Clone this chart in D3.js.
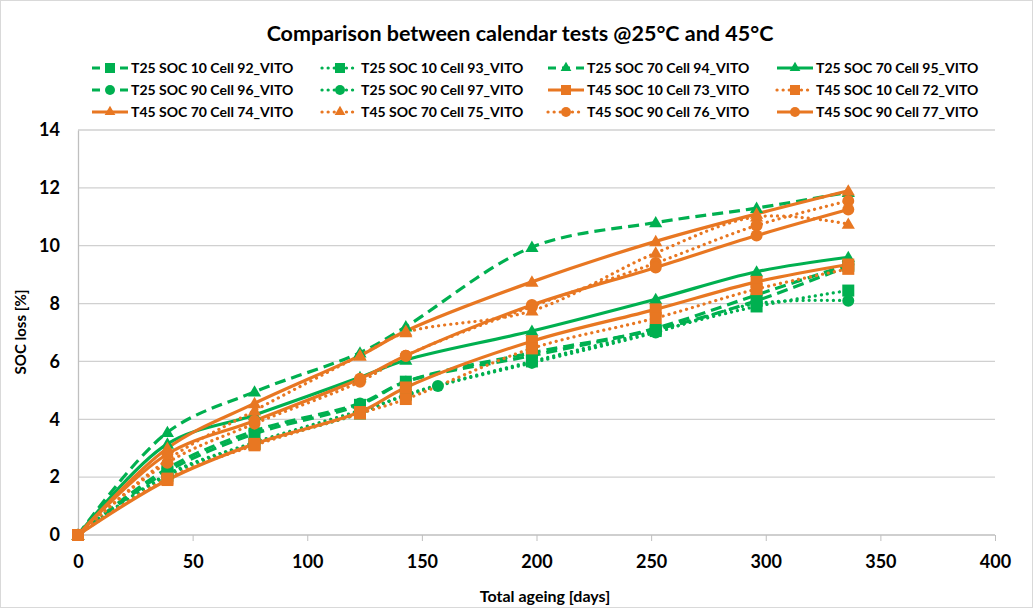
<!DOCTYPE html>
<html>
<head>
<meta charset="utf-8">
<script src="https://cdn.jsdelivr.net/npm/d3@7"></script>
<style>
  body { margin: 0; background: #fff; }
  svg text { font-family: Lato, "Open Sans", sans-serif; font-weight: bold; fill: #000; }
  .axis path, .axis line { stroke: #bfbfbf; }
</style>
</head>
<body>
<svg id="graph" width="1034" height="609"></svg>
<script>
// series names, in legend order
var seriesNames = [
  "T25 SOC 10 Cell 92_VITO", "T25 SOC 10 Cell 93_VITO", "T25 SOC 70 Cell 94_VITO", "T25 SOC 70 Cell 95_VITO",
  "T25 SOC 90 Cell 96_VITO", "T25 SOC 90 Cell 97_VITO", "T45 SOC 10 Cell 73_VITO", "T45 SOC 10 Cell 72_VITO",
  "T45 SOC 70 Cell 74_VITO", "T45 SOC 70 Cell 75_VITO", "T45 SOC 90 Cell 76_VITO", "T45 SOC 90 Cell 77_VITO"
];

// days of each measurement
var days = [0, 39, 77, 123, 143, 198, 252, 296, 336];
var days97 = [0, 39, 77, 123, 157, 198, 252, 296, 336];

// SOC loss [%]
var cell92 = [0, 2.2, 3.5, 4.5, 5.3, 6.3, 7.1, 8.1, 9.3];
var cell93 = [0, 2.05, 3.15, 4.2, 4.85, 6.0, 7.05, 7.9, 8.45];
var cell94 = [0, 3.55, 4.95, 6.3, 7.2, 9.95, 10.8, 11.3, 11.85];
var cell95 = [0, 3.15, 4.15, 5.45, 6.05, 7.05, 8.15, 9.1, 9.6];
var cell96 = [0, 2.3, 3.6, 4.55, 5.3, 6.2, 7.15, 8.3, 9.35];
var cell97 = [0, 2.1, 3.2, 4.3, 5.15, 5.95, 7.0, 8.0, 8.1];
var cell73 = [0, 1.9, 3.15, 4.25, 5.1, 6.7, 7.8, 8.75, 9.35];
var cell72 = [0, 1.95, 3.1, 4.2, 4.7, 6.45, 7.5, 8.5, 9.2];
var cell74 = [0, 3.0, 4.55, 6.2, 7.05, 8.75, 10.15, 11.1, 11.9];
var cell75 = [0, 2.6, 4.3, 6.2, 7.0, 7.75, 9.75, 11.0, 10.75];
var cell76 = [0, 2.5, 3.85, 5.3, 6.2, 7.9, 9.4, 10.7, 11.55];
var cell77 = [0, 2.8, 3.95, 5.4, 6.2, 7.95, 9.25, 10.35, 11.25];

var xTicks = [0, 50, 100, 150, 200, 250, 300, 350, 400];
var yTicks = [0, 2, 4, 6, 8, 10, 12, 14];

var green = "#00b050", orange = "#e87722";

// style of each series: colour, line, marker
var styles = [
  {c: green, dash: "dash", m: "square"},
  {c: green, dash: "dot", m: "square"},
  {c: green, dash: "dash", m: "triangle"},
  {c: green, dash: "solid", m: "triangle"},
  {c: green, dash: "dash", m: "circle"},
  {c: green, dash: "dot", m: "circle"},
  {c: orange, dash: "solid", m: "square"},
  {c: orange, dash: "dot", m: "square"},
  {c: orange, dash: "solid", m: "triangle"},
  {c: orange, dash: "dot", m: "triangle"},
  {c: orange, dash: "dot", m: "circle"},
  {c: orange, dash: "solid", m: "circle"}
];

var values = [cell92, cell93, cell94, cell95, cell96, cell97, cell73, cell72, cell74, cell75, cell76, cell77];
var data = values.map(function(v, i) {
  var xs = (i == 5) ? days97 : days;
  return v.map(function(d, j) { return {day: xs[j], loss: d}; });
});

var svg = d3.select("#graph");

// outer frame
svg.append("rect")
  .attr("x", 0.5).attr("y", 0.5).attr("width", 1032).attr("height", 607)
  .attr("fill", "none").attr("stroke", "#d9d9d9");

var margin = {top: 130, left: 78, right: 39, bottom: 74};
var width = 1034 - margin.left - margin.right;
var height = 609 - margin.top - margin.bottom;

var xScale = d3.scaleLinear().domain([0, 400]).range([margin.left, margin.left + width]);
var yScale = d3.scaleLinear().domain([0, 14]).range([margin.top + height, margin.top]);

// gridlines
svg.append("g").selectAll("line")
  .data(yTicks.slice(1))
  .enter().append("line")
  .attr("x1", xScale(0)).attr("x2", xScale(400))
  .attr("y1", function(d) { return yScale(d); })
  .attr("y2", function(d) { return yScale(d); })
  .attr("stroke", "#d0d0d0").attr("stroke-width", 1.3);

// axes
var xAxis = d3.axisBottom(xScale).tickValues(xTicks).tickSize(6).tickPadding(11);
var gx = svg.append("g").attr("class", "axis")
  .attr("transform", "translate(0," + yScale(0) + ")")
  .call(xAxis);
gx.select(".domain").attr("d", "M" + xScale(0) + ",0H" + xScale(400)).attr("stroke-width", 1.3);
gx.selectAll("text").style("font-size", "18px").attr("dy", "0.9em");

var yAxis = d3.axisLeft(yScale).tickValues(yTicks).tickSize(0).tickPadding(18);
var gy = svg.append("g").attr("class", "axis")
  .attr("transform", "translate(" + xScale(0) + ",0)")
  .call(yAxis);
gy.select(".domain").attr("stroke-width", 1.3);
gy.selectAll("text").style("font-size", "18px");

// titles
svg.append("text").attr("x", 520).attr("y", 41).attr("text-anchor", "middle")
  .style("font-size", "21.5px").text("Comparison between calendar tests @25°C and 45°C");
svg.append("text").attr("x", 545).attr("y", 602).attr("text-anchor", "middle")
  .style("font-size", "16px").text("Total ageing [days]");
svg.append("text").attr("transform", "translate(26,332) rotate(-90)").attr("text-anchor", "middle")
  .style("font-size", "15px").text("SOC loss [%]");

function dashArray(d) {
  if (d == "dash") return "11,6";
  if (d == "dot") return "0.1,6";
  return null;
}

function drawMarker(g, type, x, y, color) {
  if (type == "square") {
    g.append("rect").attr("x", x - 6).attr("y", y - 6).attr("width", 12).attr("height", 12).attr("fill", color);
  } else if (type == "circle") {
    g.append("circle").attr("cx", x).attr("cy", y).attr("r", 6).attr("fill", color);
  } else {
    g.append("path").attr("d", d3.symbol().type(d3.symbolTriangle).size(75)()).attr("transform", "translate(" + x + "," + (y + 1) + ")").attr("fill", color);
  }
}

var line = d3.line()
  .x(function(d) { return xScale(d.day); })
  .y(function(d) { return yScale(d.loss); })
  .curve(d3.curveCatmullRom.alpha(0.5));

var plot = svg.append("g");
for (var i = 0; i < data.length; i++) {
  var st = styles[i];
  plot.append("path")
    .datum(data[i])
    .attr("d", line)
    .attr("fill", "none")
    .attr("stroke", st.c)
    .attr("stroke-width", 3.2)
    .attr("stroke-linecap", st.dash == "dot" ? "round" : "butt")
    .attr("stroke-dasharray", dashArray(st.dash));
}
for (var i = 0; i < data.length; i++) {
  var g = plot.append("g");
  data[i].forEach(function(d) {
    drawMarker(g, styles[i].m, xScale(d.day), yScale(d.loss), styles[i].c);
  });
}

// legend
var colX = [92, 322, 548, 777];
var rowY = [68, 90, 112];
var legend = svg.append("g");
for (var i = 0; i < seriesNames.length; i++) {
  var lx = colX[i % 4], ly = rowY[Math.floor(i / 4)];
  var st = styles[i];
  legend.append("line")
    .attr("x1", lx).attr("x2", lx + 36).attr("y1", ly).attr("y2", ly)
    .attr("stroke", st.c).attr("stroke-width", 3.2)
    .attr("stroke-linecap", st.dash == "dot" ? "round" : "butt")
    .attr("stroke-dasharray", st.dash == "dash" ? "8,6" : dashArray(st.dash));
  var mg = legend.append("g");
  if (st.m == "square") {
    mg.append("rect").attr("x", lx + 13).attr("y", ly - 5).attr("width", 10).attr("height", 10).attr("fill", st.c);
  } else if (st.m == "circle") {
    mg.append("circle").attr("cx", lx + 18).attr("cy", ly).attr("r", 5).attr("fill", st.c);
  } else {
    mg.append("path").attr("d", d3.symbol().type(d3.symbolTriangle).size(50)()).attr("transform", "translate(" + (lx + 18) + "," + ly + ")").attr("fill", st.c);
  }
  legend.append("text").attr("x", lx + 39).attr("y", ly + 5)
    .style("font-size", "14px").text(seriesNames[i]);
}
</script>
</body>
</html>
